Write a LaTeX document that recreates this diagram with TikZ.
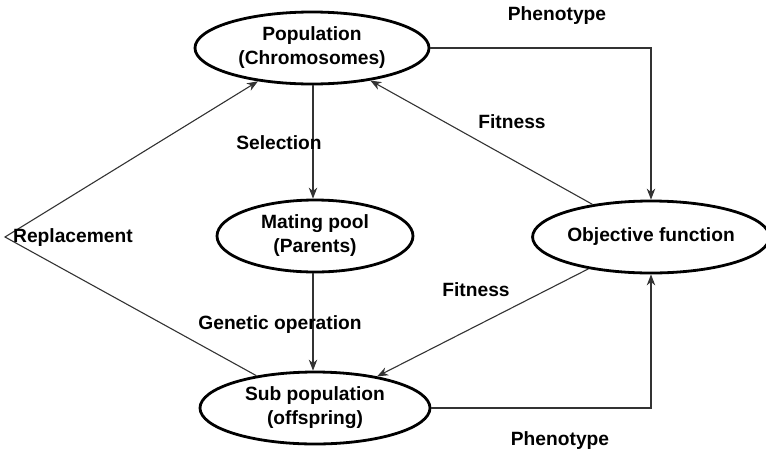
\documentclass[tikz,border=0pt]{standalone}
\usepackage{fontspec}
\setmainfont{Liberation Sans}
\usetikzlibrary{shapes.geometric,arrows.meta}
\begin{document}
\begin{tikzpicture}[x=1pt,y=-1pt,
  every node/.style={font=\fontsize{19.2}{24}\selectfont\bfseries},
  stage/.style={ellipse,draw,line width=2.8pt,inner sep=0pt,align=center,
                minimum width=234pt,minimum height=72pt},
  link/.style={line width=1.1pt,draw=black!80,
               -{Stealth[length=11pt,width=8.5pt,inset=3.5pt]}},
  tag/.style={inner sep=1pt}]
  \useasboundingbox (0,0) rectangle (766,456);

  % the four stages of the loop
  \node[stage] (pop) at (312,48) {Population\\(Chromosomes)};
  \node[stage,minimum width=196pt] (pool) at (315,236) {Mating pool\\(Parents)};
  \node[stage,minimum width=228pt] (obj) at (651,237) {Objective function};
  \node[stage,minimum width=230pt] (sub) at (315,408) {Sub population\\(offspring)};
  \coordinate (corner) at (5,237);

  % connectors
  \draw[link] (pop.south -| 313,0) -- (pool.north -| 313,0);
  \draw[link] (pool.south -| 313,0) -- (sub.north -| 313,0);
  \draw[link] (pop.east) -| (obj.north);
  \draw[link] (sub.east) -| (obj.south);
  \draw[link] (obj) -- (pop);
  \draw[link] (obj) -- (sub);
  \draw[link] (sub) -- (corner) -- (pop);

  % labels
  \node[tag] (l1) at (557,16) {Phenotype};
  \node[tag] (l2) at (560,441) {Phenotype};
  \node[tag] (l3) at (279,143) {Selection};
  \node[tag] (l4) at (512,122) {Fitness};
  \node[tag] (l5) at (476,290) {Fitness};
  \node[tag] (l6) at (280,325) {Genetic operation};
  \node[tag,anchor=west] (l7) at (12,238) {Replacement};
\end{tikzpicture}
\end{document}
